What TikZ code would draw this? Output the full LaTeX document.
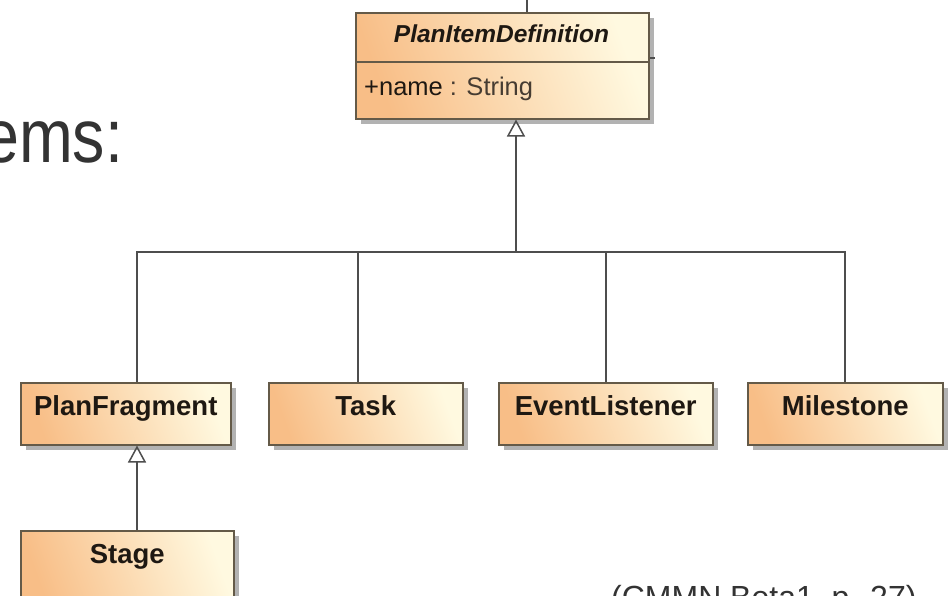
\documentclass[tikz,border=0pt]{standalone}
\usepackage{fontspec}
\usepackage{graphicx}
\setmainfont{Liberation Sans}
\usetikzlibrary{arrows.meta,shadows}
\definecolor{boxL}{RGB}{248,190,135}
\definecolor{boxR}{RGB}{255,249,224}
\definecolor{edgec}{RGB}{100,90,72}
\definecolor{connc}{RGB}{78,78,78}
\definecolor{slidetext}{RGB}{51,51,51}
\definecolor{classtext}{RGB}{30,24,18}
\definecolor{typetext}{RGB}{70,60,50}
\tikzset{
  classbox/.style={draw=edgec, line width=1.5pt, left color=boxL, right color=boxR, shading angle=110,
    drop shadow={shadow xshift=5pt, shadow yshift=-5pt, fill=black!55, opacity=0.55},
    anchor=north west, inner sep=0pt, text=classtext},
  classname/.style={font=\fontsize{27.5}{30}\selectfont\bfseries, text height=20pt, text depth=16pt},
  connline/.style={draw=connc, line width=1.6pt},
  genarrow/.style={connline, -{Triangle[open, width=18pt, length=17pt, line width=1.5pt]}},
  slide/.style={anchor=base west, inner sep=0pt, text=slidetext}
}
\begin{document}
\begin{tikzpicture}[x=1pt, y=-1pt]
\useasboundingbox (0,0) rectangle (952,595);
\clip (0,0) rectangle (952,595);
\fill[white] (0,0) rectangle (952,595);

% slide texts (cut by the frame, as in the reference)
\node[slide, font=\fontsize{76}{80}\selectfont] (ems) at (-17,162) {\scalebox{0.85}[1]{ems:}};
\node[slide, font=\fontsize{32}{34}\selectfont] (cite) at (611,608) {(CMMN Beta1, p. 27)};

% stubs of connectors leaving the frame
\coordinate (topstub) at (527,0);
\coordinate (rstub) at (655,58);

% classes
\node[classbox, minimum width=293pt, minimum height=106pt] (pid) at (355,12) {};
\draw[draw=edgec, line width=1.5pt] (pid.north west) ++(0,50) -- ++(293,0);
\node[anchor=base, inner sep=0pt, text=classtext, font=\fontsize{24.5}{26}\selectfont\bfseries\itshape] (pidt) at (501.5,42) {PlanItemDefinition};
\node[anchor=base west, inner sep=0pt, text=typetext, font=\fontsize{25.5}{27}\selectfont] (pida) at (364,95) {\textcolor{classtext}{+name} : String};

\node[classbox, classname, minimum width=210pt, minimum height=62pt] (pf) at (20,382) {PlanFragment};
\node[classbox, classname, minimum width=194pt, minimum height=62pt] (task) at (268,382) {Task};
\node[classbox, classname, minimum width=214pt, minimum height=62pt] (el) at (498,382) {EventListener};
\node[classbox, classname, minimum width=195pt, minimum height=62pt] (ms) at (747,382) {Milestone};
\node[classbox, font=\fontsize{27.5}{30}\selectfont\bfseries, text height=20pt, text depth=29pt, minimum width=213pt, minimum height=75pt] (stage) at (20,530) {Stage};

% connectors
\coordinate (bar) at (516,252);
\coordinate (xpf) at (137,0);
\coordinate (xtask) at (358,0);
\coordinate (xel) at (606,0);
\coordinate (xms) at (845,0);

\draw[connline] (xpf |- pf.north) -- (xpf |- bar) -- (xms |- bar) -- (xms |- ms.north);
\draw[connline] (xtask |- bar) -- (xtask |- task.north);
\draw[connline] (xel |- bar) -- (xel |- el.north);
\draw[genarrow] (bar) -- (bar |- pid.south);
\draw[genarrow] (xpf |- stage.north) -- (xpf |- pf.south);

\draw[connline] (topstub) -- (topstub |- pid.north);
\draw[connline] (rstub -| pid.east) -- (rstub);
\end{tikzpicture}
\end{document}
